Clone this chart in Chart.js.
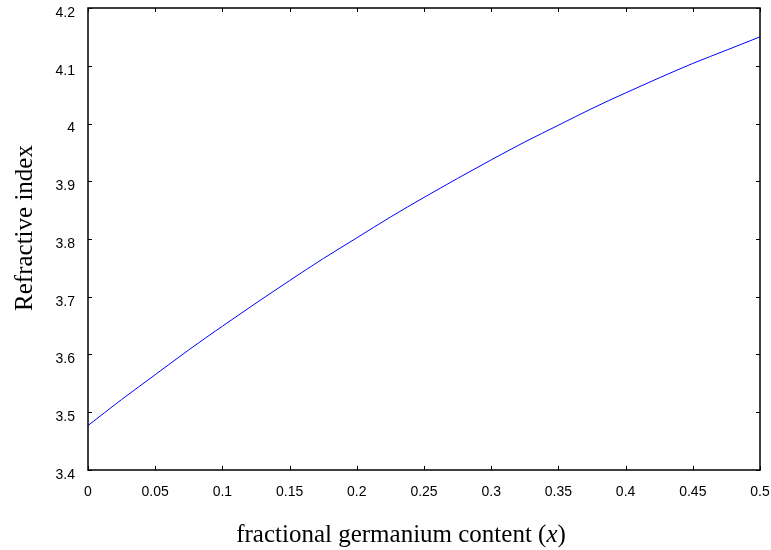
<!DOCTYPE html>
<html>
<head>
<meta charset="utf-8">
<script src="https://cdn.jsdelivr.net/npm/chart.js@4/dist/chart.umd.min.js"></script>
<style>
  html, body { margin: 0; padding: 0; background: #fff; }
  #wrap { width: 771px; height: 550px; }
</style>
</head>
<body>
<div id="wrap"><canvas id="c" width="771" height="550"></canvas></div>
<script>
// Germanium fraction x and the refractive index at each step
const germaniumFraction = [0, 0.025, 0.05, 0.075, 0.1, 0.125, 0.15, 0.175, 0.2, 0.225, 0.25,
  0.275, 0.3, 0.325, 0.35, 0.375, 0.4, 0.425, 0.45, 0.475, 0.5];
const refractiveIndex = [3.477, 3.522, 3.565, 3.608, 3.649, 3.689, 3.728, 3.766, 3.802, 3.838, 3.872,
  3.905, 3.937, 3.968, 3.997, 4.026, 4.053, 4.079, 4.104, 4.127, 4.150];

const xTicks = [0, 0.05, 0.1, 0.15, 0.2, 0.25, 0.3, 0.35, 0.4, 0.45, 0.5];
const yTicks = [3.4, 3.5, 3.6, 3.7, 3.8, 3.9, 4, 4.1, 4.2];

const xTitle = 'fractional germanium content (';
const xTitleVar = 'x';
const yTitle = 'Refractive index';

const points = germaniumFraction.map((x, i) => ({ x, y: refractiveIndex[i] }));

// Box frame, inward tick marks on all four sides, and axis titles
const frame = {
  id: 'frame',
  afterDraw(chart) {
    const { ctx, chartArea: a, scales } = chart;
    const len = 4;
    ctx.save();
    ctx.strokeStyle = '#000';
    ctx.lineWidth = 1;
    ctx.beginPath();
    xTicks.forEach(v => {
      const px = Math.round(scales.x.getPixelForValue(v)) + 0.5;
      ctx.moveTo(px, a.bottom); ctx.lineTo(px, a.bottom - len);
      ctx.moveTo(px, a.top); ctx.lineTo(px, a.top + len);
    });
    yTicks.forEach(v => {
      const py = Math.round(scales.y.getPixelForValue(v)) + 0.5;
      ctx.moveTo(a.left, py); ctx.lineTo(a.left + len, py);
      ctx.moveTo(a.right, py); ctx.lineTo(a.right - len, py);
    });
    ctx.stroke();
    ctx.lineWidth = 1.5;
    ctx.strokeRect(a.left, a.top, a.right - a.left, a.bottom - a.top);

    // axis titles
    ctx.fillStyle = '#000';
    ctx.textBaseline = 'alphabetic';
    const serif = '"Liberation Serif", "Times New Roman", serif';
    const size = 25;
    ctx.font = size + 'px ' + serif;
    const w1 = ctx.measureText(xTitle).width;
    ctx.font = 'italic ' + size + 'px ' + serif;
    const w2 = ctx.measureText(xTitleVar).width;
    ctx.font = size + 'px ' + serif;
    const w3 = ctx.measureText(')').width;
    let tx = 401 - (w1 + w2 + w3) / 2;
    const ty = 542;
    ctx.textAlign = 'left';
    ctx.fillText(xTitle, tx, ty); tx += w1;
    ctx.font = 'italic ' + size + 'px ' + serif;
    ctx.fillText(xTitleVar, tx, ty); tx += w2;
    ctx.font = size + 'px ' + serif;
    ctx.fillText(')', tx, ty);

    ctx.translate(32, 228);
    ctx.rotate(-Math.PI / 2);
    ctx.textAlign = 'center';
    ctx.fillText(yTitle, 0, 0);
    ctx.restore();
  }
};

const tickFont = { family: '"Liberation Sans", Arial, sans-serif', size: 14 };

new Chart(document.getElementById('c'), {
  type: 'line',
  data: {
    datasets: [{
      data: points,
      borderColor: '#0000ff',
      borderWidth: 1,
      pointRadius: 0,
      fill: false,
      cubicInterpolationMode: 'monotone'
    }]
  },
  options: {
    responsive: false,
    animation: false,
    devicePixelRatio: 1,
    layout: { padding: { left: 0, right: 11, top: 8, bottom: 0 } },
    plugins: { legend: { display: false }, tooltip: { enabled: false } },
    scales: {
      x: {
        type: 'linear',
        min: 0, max: 0.5,
        afterBuildTicks: s => { s.ticks = xTicks.map(v => ({ value: v })); },
        afterFit: s => { s.height = 80; s.paddingLeft = 0; s.paddingRight = 0; },
        grid: { display: false, drawTicks: false },
        border: { display: false },
        ticks: {
          padding: 14,
          color: '#000',
          font: tickFont,
          maxRotation: 0,
          callback: v => String(+v.toFixed(2))
        }
      },
      y: {
        type: 'linear',
        min: 3.4, max: 4.2,
        afterBuildTicks: s => { s.ticks = yTicks.map(v => ({ value: v })); },
        afterFit: s => { s.width = 88; s.paddingTop = 0; s.paddingBottom = 0; },
        grid: { display: false, drawTicks: false },
        border: { display: false },
        ticks: {
          padding: 13,
          labelOffset: 5,
          color: '#000',
          font: tickFont,
          callback: v => String(+v.toFixed(1))
        }
      }
    }
  },
  plugins: [frame]
});
</script>
</body>
</html>
